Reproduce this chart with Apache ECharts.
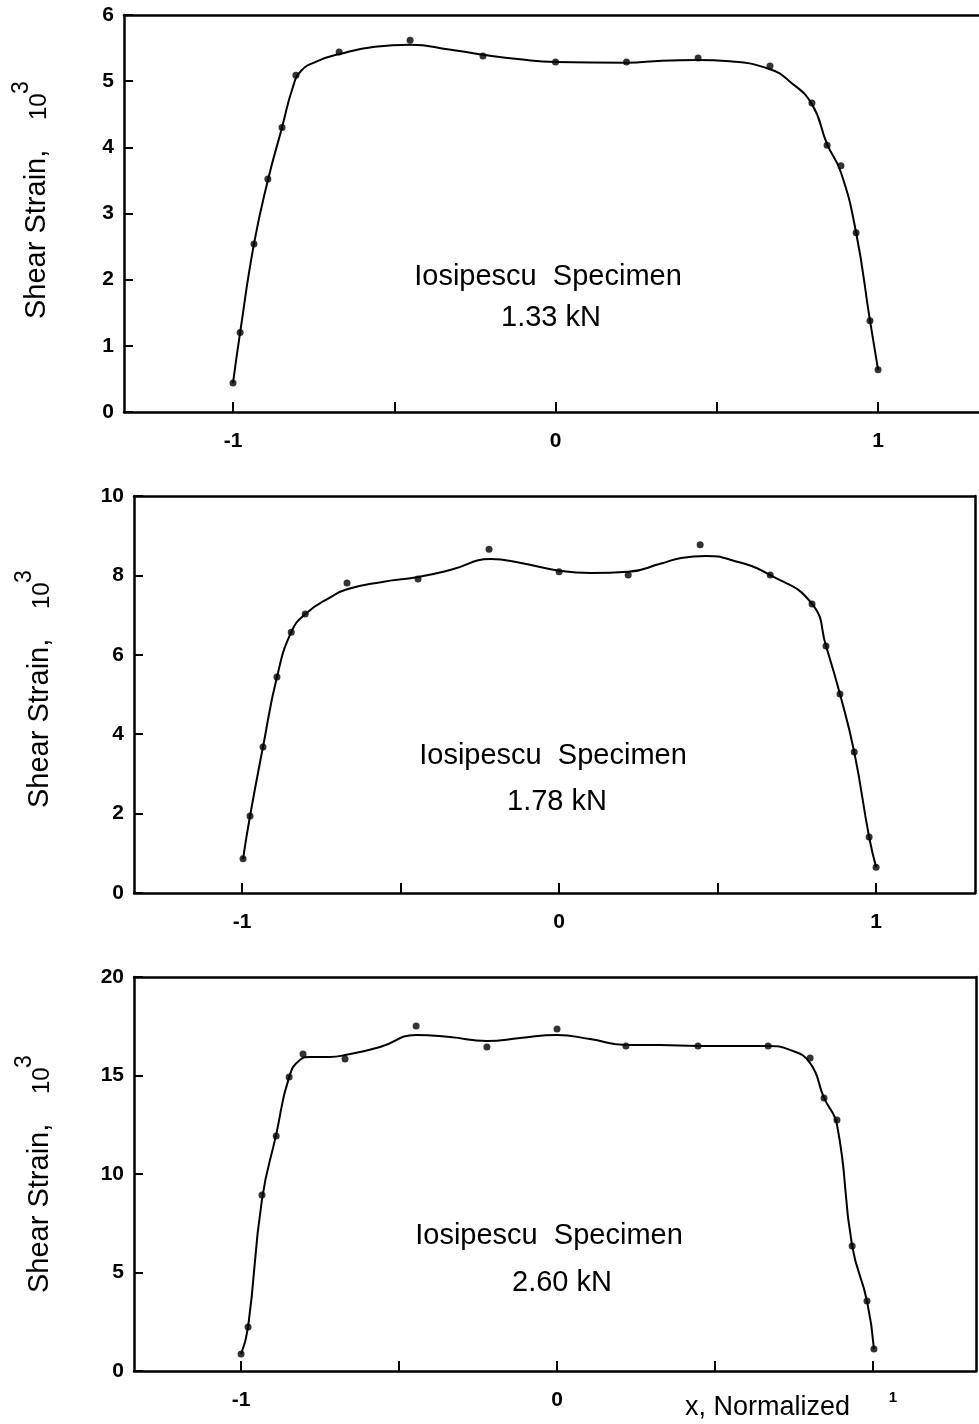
<!DOCTYPE html>
<html>
<head>
<meta charset="utf-8">
<script src="https://cdn.jsdelivr.net/npm/echarts@6/dist/echarts.min.js"></script>
<style>
html,body{margin:0;padding:0;background:#fff;}
#chart{width:979px;height:1424px;}
</style>
</head>
<body>
<div id="chart"></div>
<script>
// ---------- DATA ----------
const xTickValues = [-1, -0.5, 0, 0.5, 1];
const xLabelValues = [-1, 0, 1];
const panelLoads = ['1.33 kN', '1.78 kN', '2.60 kN'];
const annotationTitle = 'Iosipescu  Specimen';
const yAxisTitle = 'Shear Strain,';
const yAxisPower = '10';
const yAxisExp = '3';
const xAxisTitle = 'x, Normalized';
const yMax = [6, 10, 20];
const yStep = [1, 2, 5];

// measured points (x normalized, shear strain x10^3)
const points1 = [[-1.0,0.44],[-0.978,1.2],[-0.935,2.54],[-0.892,3.52],[-0.848,4.30],[-0.805,5.09],[-0.671,5.44],[-0.451,5.62],[-0.225,5.38],[0,5.29],[0.22,5.29],[0.442,5.35],[0.665,5.23],[0.795,4.67],[0.842,4.03],[0.885,3.72],[0.932,2.71],[0.975,1.38],[1.0,0.64]];
const points2 = [[-0.997,0.86],[-0.975,1.94],[-0.934,3.68],[-0.890,5.44],[-0.845,6.57],[-0.801,7.03],[-0.669,7.81],[-0.445,7.91],[-0.221,8.66],[0,8.09],[0.218,8.01],[0.445,8.77],[0.666,8.01],[0.798,7.28],[0.842,6.22],[0.886,5.01],[0.931,3.55],[0.978,1.41],[1.0,0.65]];
const points3 = [[-1.0,0.86],[-0.978,2.23],[-0.934,8.93],[-0.889,11.93],[-0.848,14.92],[-0.804,16.09],[-0.671,15.84],[-0.446,17.51],[-0.222,16.45],[0,17.36],[0.218,16.5],[0.446,16.5],[0.668,16.5],[0.801,15.89],[0.845,13.86],[0.886,12.74],[0.934,6.35],[0.981,3.55],[1.003,1.12]];

// fitted curves
const curve1 = [[-1.0,0.44],[-0.978,1.2],[-0.935,2.54],[-0.892,3.5],[-0.848,4.3],[-0.815,4.9],[-0.79,5.15],[-0.74,5.3],[-0.67,5.41],[-0.56,5.52],[-0.45,5.55],[-0.33,5.48],[-0.225,5.4],[-0.11,5.33],[0,5.29],[0.22,5.28],[0.33,5.31],[0.44,5.32],[0.54,5.3],[0.665,5.18],[0.725,5.0],[0.795,4.65],[0.842,4.05],[0.885,3.62],[0.932,2.71],[0.975,1.38],[1.0,0.64]];
const curve2 = [[-0.997,0.86],[-0.975,1.94],[-0.934,3.68],[-0.89,5.44],[-0.845,6.57],[-0.80,7.03],[-0.719,7.46],[-0.669,7.65],[-0.562,7.83],[-0.445,7.96],[-0.341,8.14],[-0.215,8.41],[-0.12,8.31],[0,8.12],[0.101,8.06],[0.218,8.09],[0.322,8.3],[0.385,8.44],[0.464,8.49],[0.543,8.39],[0.666,8.01],[0.798,7.28],[0.842,6.22],[0.886,5.01],[0.931,3.55],[0.978,1.41],[1.0,0.65]];
const curve3 = [[-1.0,0.86],[-0.978,2.23],[-0.934,8.7],[-0.889,12.0],[-0.848,14.92],[-0.813,15.8],[-0.782,15.94],[-0.718,15.94],[-0.671,16.04],[-0.56,16.45],[-0.446,17.06],[-0.339,16.95],[-0.222,16.75],[-0.117,16.9],[0,17.06],[0.104,16.85],[0.218,16.55],[0.326,16.55],[0.446,16.5],[0.668,16.5],[0.737,16.3],[0.801,15.63],[0.845,13.86],[0.886,12.5],[0.934,6.35],[0.981,3.55],[1.003,1.12]];

const pointSets = [points1, points2, points3];
const curveSets = [curve1, curve2, curve3];

// ---------- LAYOUT ----------
const grids = [
  {left:124, top:15, width:855, height:397, xmin:-1.338, xmax:1.313, rightLine:false},
  {left:134, top:496, width:841, height:397, xmin:-1.341, xmax:1.312, rightLine:true},
  {left:134, top:977, width:842, height:394, xmin:-1.339, xmax:1.326, rightLine:true}
];
const FONT = '"Liberation Sans", Arial, Helvetica, sans-serif';
const LW = 2.5;

const chart = echarts.init(document.getElementById('chart'), null, {renderer:'canvas'});

const option = {
  backgroundColor:'#fff',
  animation:false,
  grid:[], xAxis:[], yAxis:[], series:[], graphic:[]
};

grids.forEach((g, i) => {
  option.grid.push({left:g.left, top:g.top, width:g.width, height:g.height, containLabel:false});
  option.xAxis.push({
    type:'value', gridIndex:i, min:g.xmin, max:g.xmax, position:'bottom',
    axisLine:{show:true, onZero:false, lineStyle:{color:'#000', width:LW}},
    axisTick:{show:true, inside:true, length:10, customValues:xTickValues, lineStyle:{color:'#000', width:2}},
    axisLabel:{
      show:true, customValues:xLabelValues, margin:19,
      color:'#000', fontSize:21, fontWeight:'bold', fontFamily:FONT,
      formatter: (v) => (i === 2 && v === 1) ? '{s|1}' : String(v),
      rich:{ s:{fontSize:15, fontWeight:'bold', fontFamily:FONT, color:'#000', padding:[0,0,5,40]} }
    },
    splitLine:{show:false}
  });
  option.xAxis.push({
    type:'value', gridIndex:i, min:g.xmin, max:g.xmax, position:'top',
    axisLine:{show:true, onZero:false, lineStyle:{color:'#000', width:LW}},
    axisTick:{show:false}, axisLabel:{show:false}, splitLine:{show:false}
  });
  option.yAxis.push({
    type:'value', gridIndex:i, min:0, max:yMax[i], interval:yStep[i], position:'left',
    axisLine:{show:true, onZero:false, lineStyle:{color:'#000', width:LW}},
    axisTick:{show:true, inside:true, length:9, lineStyle:{color:'#000', width:2}},
    axisLabel:{show:true, margin:10, color:'#000', fontSize:21, fontWeight:'bold', fontFamily:FONT},
    splitLine:{show:false}
  });
  option.yAxis.push({
    type:'value', gridIndex:i, min:0, max:yMax[i], position:'right',
    axisLine:{show:g.rightLine, onZero:false, lineStyle:{color:'#000', width:LW}},
    axisTick:{show:false}, axisLabel:{show:false}, splitLine:{show:false}
  });

  option.series.push({
    type:'line', xAxisIndex:i*2, yAxisIndex:i*2, data:curveSets[i],
    smooth:0.5, showSymbol:false, symbol:'none',
    lineStyle:{color:'#000', width:2}, silent:true, z:2
  });
  option.series.push({
    type:'scatter', xAxisIndex:i*2, yAxisIndex:i*2, data:pointSets[i],
    symbol:'circle', symbolSize:7, itemStyle:{color:'#000'}, silent:true, z:3
  });
});

// annotations
const annot = [
  {x1:548, y1:277, x2:551, y2:318},
  {x1:553, y1:756, x2:557, y2:802},
  {x1:549, y1:1236, x2:562, y2:1283}
];
annot.forEach((a, i) => {
  option.graphic.push({type:'text', x:a.x1, y:a.y1, style:{text:annotationTitle, font:'29px '+FONT, fill:'#000', textAlign:'center', textVerticalAlign:'middle'}});
  option.graphic.push({type:'text', x:a.x2, y:a.y2, style:{text:panelLoads[i], font:'29px '+FONT, fill:'#000', textAlign:'center', textVerticalAlign:'middle'}});
});

// y axis titles (rotated)
const ytitle = [
  {mid:37, sBottom:319, midSmall:39, midExp:22},
  {mid:40, sBottom:808, midSmall:42, midExp:25},
  {mid:40, sBottom:1293, midSmall:42, midExp:25}
];
ytitle.forEach((t) => {
  option.graphic.push({type:'text', x:t.mid, y:t.sBottom, rotation:Math.PI/2,
    style:{text:yAxisTitle, font:'29px '+FONT, fill:'#000', textAlign:'left', textVerticalAlign:'middle'}});
  option.graphic.push({type:'text', x:t.midSmall, y:t.sBottom-199, rotation:Math.PI/2,
    style:{text:yAxisPower, font:'24px '+FONT, fill:'#000', textAlign:'left', textVerticalAlign:'middle'}});
  option.graphic.push({type:'text', x:t.midExp, y:t.sBottom-225, rotation:Math.PI/2,
    style:{text:yAxisExp, font:'23px '+FONT, fill:'#000', textAlign:'left', textVerticalAlign:'middle'}});
});

// x axis title
option.graphic.push({type:'text', x:685, y:1408, style:{text:xAxisTitle, font:'27px '+FONT, fill:'#000', textAlign:'left', textVerticalAlign:'middle'}});

chart.setOption(option);
</script>
</body>
</html>
